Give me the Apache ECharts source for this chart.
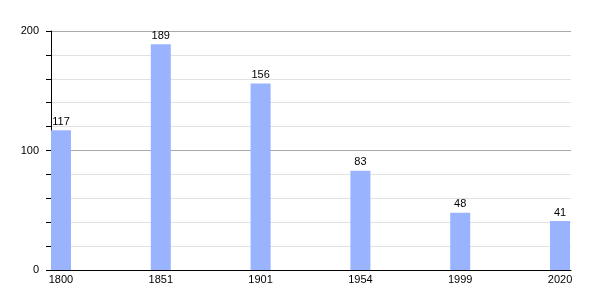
<!DOCTYPE html>
<html><head><meta charset="utf-8">
<script src="https://cdn.jsdelivr.net/npm/echarts@6/dist/echarts.min.js"></script>
<style>html,body{margin:0;padding:0;background:#fff}#c{width:600px;height:300px}</style>
</head><body><div id="c"></div>
<script>
const years = ['1800','1851','1901','1954','1999','2020'];
const population = [117, 189, 156, 83, 48, 41];
const yTickLabels = [0, 100, 200];

const chart = echarts.init(document.getElementById('c'), null, {renderer:'canvas'});
chart.setOption({
  animation: false,
  grid: {left: 51, right: 29, top: 31, bottom: 30, containLabel: false},
  xAxis: {
    type: 'value', min: -0.1, max: 5.11,
    axisLine: {show: true, onZero: false, lineStyle: {color: '#000', width: 1}},
    axisTick: {show: false},
    splitLine: {show: false},
    axisLabel: {
      customValues: years.map((y, i) => i),
      formatter: v => years[Math.round(v)] || '',
      color: '#000', fontFamily: 'Liberation Sans, Arial, sans-serif', fontSize: 11, margin: 4
    }
  },
  yAxis: {
    type: 'value', min: 0, max: 200, interval: 20,
    axisLine: {show: true, onZero: false, lineStyle: {color: '#000', width: 1}},
    axisTick: {show: true, length: 5, lineStyle: {color: '#000'}},
    splitLine: {show: true, lineStyle: {color: ['#aaaaaa','#e2e2e2','#e2e2e2','#e2e2e2','#e2e2e2'], width: 1}},
    axisLabel: {
      formatter: v => yTickLabels.includes(v) ? String(v) : '',
      color: '#000', fontFamily: 'Liberation Sans, Arial, sans-serif', fontSize: 11, margin: 12
    }
  },
  series: [{
    type: 'bar',
    data: population.map((v, i) => [i, v]),
    barWidth: 20,
    itemStyle: {color: '#99b3ff'},
    label: {show: true, position: 'top', distance: 3, color: '#000',
      fontFamily: 'Liberation Sans, Arial, sans-serif', fontSize: 11}
  }]
});
</script></body></html>
